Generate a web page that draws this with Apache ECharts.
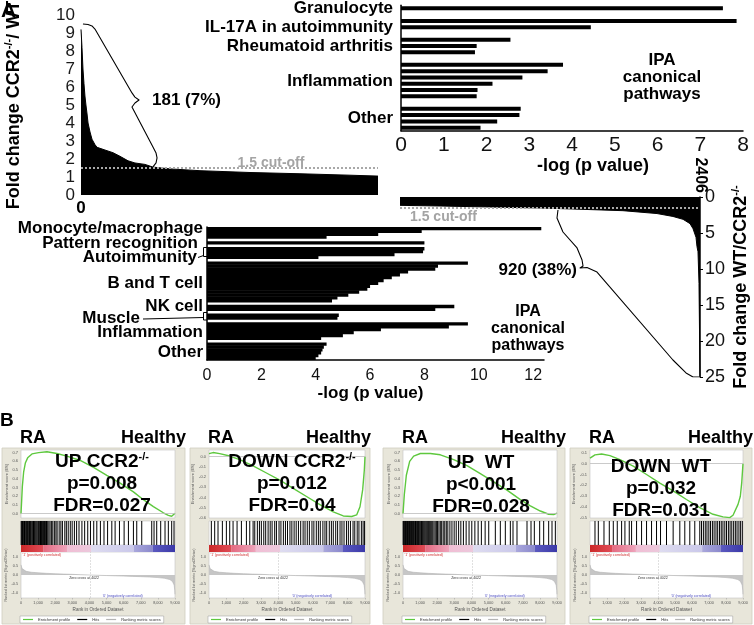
<!DOCTYPE html>
<html>
<head>
<meta charset="utf-8">
<script src="https://cdn.jsdelivr.net/npm/echarts@6/dist/echarts.min.js"></script>
<style>html,body{margin:0;padding:0;background:#fff}#c{width:754px;height:625px}</style>
</head>
<body>
<div id="c"></div>
<script>
// ================= DATA =================
// Panel A top-left: sorted fold change CCR2-/-/WT (gene rank -> fold change)
const totalGenes = 2406;
const cutoff = 1.5;
const tlRank = [0,8,16,24,32,40,49,57,73,89,113,130,194,259,316,381,437,518,583,721,964,1369,1774,2179,2406];
const tlFold = [9.2,8.2,7.0,6.2,5.5,5.0,4.5,4.0,3.5,3.1,2.8,2.65,2.5,2.35,2.15,1.9,1.78,1.7,1.55,1.45,1.35,1.25,1.18,1.1,1.05];

// Panel A right: sorted fold change WT/CCR2-/-
const rtRank = [0,321,722,1123,1387,1788,2061,2189,2270,2326,2350,2374,2382,2390,2398,2406];
const rtFold = [1.16,1.25,1.39,1.53,1.67,1.9,2.3,2.7,3.1,3.7,4.4,5.6,6.9,7.6,12,25];

// IPA canonical pathways (up in CCR2-/-): one value per slot, null = spacer
const trSlotValues = [7.53,null,7.85,4.44,null,2.56,1.77,1.73,null,3.79,3.43,2.84,2.14,1.79,1.77,null,2.80,2.77,2.25,1.86];
const trGroupNames = ['Granulocyte','IL-17A in autoimmunity','Rheumatoid arthritis','Inflammation','Other'];
const trGroupSlots = [0,3,6,12,18];

// IPA canonical pathways (down in CCR2-/-)
const midSlotValues = [12.3,7.9,6.3,4.4,null,8.0,null,8.0,7.95,6.9,4.1,null,
  9.6,8.5,8.4,7.4,7.1,6.8,6.5,6.3,6.0,5.9,5.6,5.2,4.8,4.6,null,
  9.1,8.4,null,4.85,4.8,null,9.6,8.9,6.4,5.4,5.0,4.2,null,4.4,4.3,4.25,4.2,4.1,4.0];
const midGroupNames = ['Monocyte/macrophage','Pattern recognition','Autoimmunity','B and T cell','NK cell','Muscle','Inflammation','Other'];
const midGroupSlots = [0,5,10,19,27,31,36,43];

// Panel B: GSEA
const gseaSets = ['UP CCR2','DOWN CCR2','UP  WT','DOWN  WT'];
const gseaSup = [true,true,false,false];
const gseaP = ['p=0.008','p=0.012','p<0.001','p=0.032'];
const gseaFDR = ['FDR=0.027','FDR=0.04','FDR=0.028','FDR=0.031'];
const zeroCross = 4022;
const rankMax = 9000;

const esUpCCR2 = [[0,0],[39,0.15],[78,0.31],[156,0.48],[253,0.58],[389,0.64],[641,0.685],[1030,0.70],[1516,0.71],[2100,0.69],[2683,0.66],[3460,0.61],[4238,0.53],[5015,0.44],[5793,0.35],[6570,0.25],[7153,0.16],[7737,0.08],[8320,0.01],[8611,-0.02],[8806,-0.03],[8903,-0.015],[9000,0.005]];
const esDownCCR2 = [[0,0.03],[231,0.04],[617,0.03],[1195,0.006],[1773,-0.03],[2544,-0.09],[3315,-0.16],[4086,-0.23],[4857,-0.31],[5627,-0.39],[6398,-0.47],[7169,-0.54],[7747,-0.58],[8229,-0.585],[8518,-0.57],[8711,-0.49],[8865,-0.325],[8961,-0.13],[9000,0]];
const esUpWT = [[0,0],[78,0.22],[195,0.44],[390,0.6],[623,0.66],[1013,0.69],[1597,0.69],[2182,0.675],[2961,0.62],[3740,0.55],[4519,0.46],[5299,0.365],[6078,0.27],[6857,0.16],[7442,0.09],[8026,0.03],[8513,-0.007],[8805,-0.011],[9000,0.007]];
const esDownWT = [[0,0.05],[293,0.08],[685,0.088],[1174,0.073],[1761,0.037],[2543,-0.024],[3326,-0.1],[4109,-0.18],[4891,-0.25],[5674,-0.33],[6457,-0.405],[7239,-0.466],[7826,-0.49],[8217,-0.497],[8413,-0.475],[8707,-0.375],[8843,-0.3],[8922,-0.18],[9000,0]];

const hitsUpCCR2 = [12,48,85,118,160,205,240,285,330,372,410,455,500,548,590,640,688,730,781,829,880,930,985,1030,1090,1140,1195,1250,1310,1370,1425,1490,1560,1630,1700,1790,1860,1950,2040,2110,2230,2330,2420,2560,2650,2760,2880,2990,3120,3250,3390,3560,3720,3900,4060,4250,4430,4640,4850,5060,5307,5500,5754,6026,6278,6570,6764,7056,7640,7775,7931,8164,8417,8611,8806,8942];
const hitsDownCCR2 = [135,328,520,771,1002,1195,1388,1619,1869,2158,2351,2544,2640,2790,2910,3020,3160,3270,3410,3530,3640,3790,3890,4040,4150,4290,4410,4530,4670,4780,4910,5030,5160,5290,5430,5540,5670,5790,5940,6050,6190,6310,6420,6570,6690,6790,6940,7060,7170,7310,7420,7560,7670,7790,7930,8040,8160,8310,8410,8550,8650,8790,8890,8975];
const hitsUpWT = [8,40,72,110,150,185,222,260,300,338,375,415,452,490,530,568,605,645,690,730,770,812,855,900,945,990,1040,1085,1130,1180,1230,1280,1335,1390,1445,1500,1560,1620,1680,1740,1810,1880,1950,2020,2100,2180,2260,2350,2440,2530,2620,2740,2860,2990,3110,3250,3380,3530,3690,3860,4020,4200,4390,4580,4800,5010,5396,5688,5980,6273,6429,6662,7247,7481,7675,7987,8221,8513,8708,8903];
const hitsDownWT = [293,489,822,1135,1370,1604,1859,2054,2309,2446,2739,3033,3326,3620,3913,4148,4500,4891,5283,5576,5870,6163,6457,6560,6670,6780,6880,6990,7090,7200,7300,7410,7510,7620,7720,7820,7930,8030,8140,8240,8340,8450,8550,8650,8760,8860,8960];

const rankedMetric = [[0,0.55],[60,0.35],[150,0.26],[300,0.2],[600,0.15],[1000,0.12],[1500,0.09],[2000,0.07],[2500,0.05],[3000,0.035],[3500,0.015],[4022,0],[4500,-0.015],[5000,-0.03],[5500,-0.045],[6000,-0.06],[6500,-0.075],[7000,-0.09],[7500,-0.11],[8000,-0.14],[8400,-0.18],[8700,-0.25],[8850,-0.35],[8950,-0.55],[8990,-0.85],[9000,-1.05]];

// heat-map colour bar blocks: [startRank, endRank]
const colorBandEdges = [[0,1300],[1300,2700],[2700,4100],[4100,6600],[6600,7700],[7700,9000]];

// ================= BUILD =================
const FONT = '"Liberation Sans", Arial, Helvetica, sans-serif';
const bandColors = [['#cc2828','#e04c58'],['#e46a80','#eea4bc'],['#f0bed4','#ecc8dc'],['#dedcf0','#cac8ea'],['#aaa8dc','#8a88cc'],['#5c5ac0','#3a38a8']];
const grids = [], xAxes = [], yAxes = [], series = [], legends = [], graphics = [];
function addGrid(g){ grids.push(Object.assign({outerBoundsMode:'none', containLabel:false}, g)); return grids.length - 1; }
function fmt1(v){ if (Math.abs(v) < 1e-9) return '0.0'; return v.toFixed(1); }
function isMult(v, s){ const r = v / s; return Math.abs(r - Math.round(r)) < 1e-6; }
function commas(v){ return String(Math.round(v)).replace(/\B(?=(\d{3})+(?!\d))/g, ','); }
const hide = {show:false, onZero:false};
const blackLine = {show:true, onZero:false, lineStyle:{color:'#000', width:1.5}};
const supRich = {
  n:{fontSize:18, fontWeight:'bold', color:'#000', fontFamily:FONT, lineHeight:22},
  s:{fontSize:11, fontWeight:'bold', color:'#000', fontFamily:FONT, lineHeight:22, verticalAlign:'top'}
};

// ---- top-left ----
const gTL = addGrid({left:81, top:15, width:297, height:180});
xAxes.push({gridIndex:gTL, type:'value', min:0, max:totalGenes, axisLine:hide, axisTick:{show:false}, splitLine:{show:false},
  axisLabel:{formatter:v => v === 0 ? '0' : '', fontSize:17, fontWeight:'bold', color:'#000', fontFamily:FONT, margin:5}});
yAxes.push({gridIndex:gTL, type:'value', min:0, max:10, interval:1, axisLine:hide, axisTick:{show:false}, splitLine:{show:false},
  axisLabel:{fontSize:17, color:'#1a1a1a', fontFamily:FONT, margin:6},
  name:'{n|Fold change CCR2}{s|-/-}{n|/ WT}', nameLocation:'middle', nameGap:56, nameTextStyle:{rich:supRich}});
series.push({type:'line', xAxisIndex:gTL, yAxisIndex:gTL, data:tlRank.map((r,i)=>[r, tlFold[i]]), symbol:'none',
  lineStyle:{color:'#000', width:1}, areaStyle:{color:'#000', opacity:1}, silent:true,
  markLine:{silent:true, symbol:'none', data:[{yAxis:cutoff}], label:{show:false}, lineStyle:{color:'#a8a8a8', type:'dotted', width:2}}});
// curly-brace annotation (data coordinates)
series.push({type:'line', xAxisIndex:gTL, yAxisIndex:gTL, symbol:'none', silent:true, z:5,
  lineStyle:{color:'#000', width:1.1, join:'round'},
  data:[[16,9.5],[57,9.47],[89,9.39],[113,9.22],[413,5.67],[437,5.44],[470,5.28],[437,5.11],[413,4.89],[583,2.67],[608,2.33],[616,2.06],[608,1.78],[583,1.56]]});

// ---- top-right ----
const gTR = addGrid({left:401, top:5.2, width:342, height:125.6});
xAxes.push({gridIndex:gTR, type:'value', min:0, max:8, interval:1, axisLine:blackLine, axisTick:{show:false}, splitLine:{show:false},
  axisLabel:{fontSize:21, color:'#111', margin:4, fontFamily:FONT},
  name:'-log (p value)', nameLocation:'middle', nameGap:21,
  nameTextStyle:{fontSize:18, fontWeight:'bold', color:'#000', fontFamily:FONT, padding:[0,0,0,42]}});
const trLabels = trSlotValues.map(() => '');
trGroupSlots.forEach((s,i) => trLabels[s] = trGroupNames[i]);
const trBase = {fontSize:17, fontWeight:'bold', color:'#000', fontFamily:FONT};
yAxes.push({gridIndex:gTR, type:'category', inverse:true, data:trSlotValues.map((_,i)=>'t'+i),
  axisLine:blackLine, axisTick:{show:false},
  axisLabel:{interval:0, margin:8, formatter:(v,i) => {
    const t = trLabels[i]; if (!t) return '';
    const k = i === 12 ? 'u4' : (i === 18 ? 'u6' : 'b');
    return '{' + k + '|' + t + '}';
  }, rich:{b:trBase, u4:Object.assign({padding:[0,0,4,0]}, trBase), u6:Object.assign({padding:[0,0,6,0]}, trBase)}}});
series.push({type:'bar', xAxisIndex:gTR, yAxisIndex:gTR, data:trSlotValues, barWidth:4, itemStyle:{color:'#000'}, silent:true});

// ---- middle ----
const gMID = addGrid({left:207, top:227, width:337, height:133});
xAxes.push({gridIndex:gMID, type:'value', min:0, max:12.4, interval:2, axisLine:blackLine, axisTick:{show:false}, splitLine:{show:false},
  axisLabel:{fontSize:16, color:'#111', margin:8, fontFamily:FONT, formatter:v => isMult(v,2) ? String(v) : ''},
  name:'-log (p value)', nameLocation:'middle', nameGap:24,
  nameTextStyle:{fontSize:17, fontWeight:'bold', color:'#000', fontFamily:FONT, padding:[0,10,0,0]}});
const midLabels = midSlotValues.map(() => '');
midGroupSlots.forEach((s,i) => midLabels[s] = midGroupNames[i]);
const midKey = {5:'p5', 10:'p6', 31:'m'};
const midBase = {fontSize:17, fontWeight:'bold', color:'#000', fontFamily:FONT};
yAxes.push({gridIndex:gMID, type:'category', inverse:true, data:midSlotValues.map((_,i)=>'m'+i),
  axisLine:blackLine, axisTick:{show:false},
  axisLabel:{interval:0, margin:4, formatter:(v,i) => {
    const t = midLabels[i]; if (!t) return '';
    return '{' + (midKey[i] || 'b') + '|' + t + '}';
  }, rich:{b:midBase, p5:Object.assign({padding:[0,5,0,0]}, midBase), p6:Object.assign({padding:[0,6,0,0]}, midBase), m:Object.assign({padding:[0,63,0,0]}, midBase)}}});
series.push({type:'bar', xAxisIndex:gMID, yAxisIndex:gMID, data:midSlotValues, barWidth:'118%',
  itemStyle:{color:'#000'}, silent:true});

// ---- right ----
const gRT = addGrid({left:400, top:197, width:300, height:180});
xAxes.push({gridIndex:gRT, type:'value', position:'top', min:0, max:totalGenes, interval:totalGenes, axisLine:hide, axisTick:{show:false}, splitLine:{show:false},
  axisLabel:{formatter:v => v === totalGenes ? String(totalGenes) : '', rotate:90, fontSize:16, fontWeight:'bold', color:'#000', fontFamily:FONT, margin:4}});
yAxes.push({gridIndex:gRT, type:'value', position:'right', inverse:true, min:0, max:25, interval:5, axisLine:blackLine,
  axisTick:{show:true, length:3, lineStyle:{color:'#000', width:1}}, splitLine:{show:false},
  axisLabel:{fontSize:18, color:'#111', fontFamily:FONT, margin:5},
  name:'{n|Fold change WT/CCR2}{s|-/-}', nameLocation:'middle', nameGap:30, nameTextStyle:{rich:supRich}});
series.push({type:'line', xAxisIndex:gRT, yAxisIndex:gRT, data:rtRank.map((r,i)=>[r, rtFold[i]]), symbol:'none',
  lineStyle:{color:'#000', width:1}, areaStyle:{color:'#000', opacity:1}, silent:true,
  markLine:{silent:true, symbol:'none', data:[{yAxis:cutoff}], label:{show:false}, lineStyle:{color:'#a8a8a8', type:'dotted', width:2}}});
series.push({type:'line', xAxisIndex:gRT, yAxisIndex:gRT, symbol:'none', silent:true, z:5,
  lineStyle:{color:'#000', width:1.1, join:'round'},
  data:[[1267,1.8],[1259,2.92],[1307,4.86],[1420,7.08],[1460,8.75],[1468,9.58],[1444,9.86],[1500,9.79],[1580,10.42],[2189,22.64],[2294,24.44],[2350,25],[2398,25]]});

// ---- GSEA panels ----
const esSets = [esUpCCR2, esDownCCR2, esUpWT, esDownWT];
const hitSets = [hitsUpCCR2, hitsDownCCR2, hitsUpWT, hitsDownWT];
const esRanges = [[-0.05,0.73],[-0.6,0.065],[-0.05,0.73],[-0.5,0.125]];
const panelGeo = [{L:21,R:175,b0:2,b1:185,cx:102,ty:462},{L:209,R:365,b0:190,b1:370,cx:292,ty:462},
                  {L:403,R:557,b0:383,b1:565,cx:481,ty:463},{L:590,R:743,b0:570,b1:752,cx:661,ty:467}];
const tiny = {color:'#555', fontFamily:FONT};
panelGeo.forEach((g,p) => {
  const W = g.R - g.L;
  // ES
  const gE = addGrid({left:g.L, top:450, width:W, height:68, show:true, backgroundColor:'#fff', borderColor:'#c4c4c4', borderWidth:0.6});
  xAxes.push({gridIndex:gE, type:'value', min:0, max:rankMax, show:false});
  yAxes.push({gridIndex:gE, type:'value', min:esRanges[p][0], max:esRanges[p][1], interval:0.05, axisLine:hide, axisTick:{show:false}, splitLine:{show:false},
    axisLabel:Object.assign({fontSize:4, margin:3, formatter:v => isMult(v,0.1) ? fmt1(v) : ''}, tiny),
    name:'Enrichment score (ES)', nameLocation:'middle', nameGap:11, nameTextStyle:Object.assign({fontSize:4}, tiny)});
  series.push({name:'Enrichment profile', type:'line', xAxisIndex:gE, yAxisIndex:gE, data:esSets[p], symbol:'none', silent:true,
    lineStyle:{color:'#5ec83e', width:1.4}, itemStyle:{color:'#5ec83e'},
    markLine:{silent:true, symbol:'none', data:[{yAxis:0}], label:{show:false}, lineStyle:{color:'#bdbdbd', width:0.8, type:'solid'}}});
  // hits
  const gH = addGrid({left:g.L, top:521, width:W, height:24, show:true, backgroundColor:'#fff', borderColor:'#c4c4c4', borderWidth:0.6});
  xAxes.push({gridIndex:gH, type:'value', min:0, max:rankMax, show:false});
  yAxes.push({gridIndex:gH, type:'value', min:0, max:1, show:false});
  series.push({name:'Hits', type:'bar', xAxisIndex:gH, yAxisIndex:gH, data:hitSets[p].map(h => [h,1]), barWidth:1, silent:true,
    itemStyle:{color:'#000'}});
  // colour bar
  const gC = addGrid({left:g.L, top:545, width:W, height:7});
  xAxes.push({gridIndex:gC, type:'value', min:0, max:rankMax, show:false});
  yAxes.push({gridIndex:gC, type:'value', min:0, max:1, show:false});
  series.push({type:'custom', xAxisIndex:gC, yAxisIndex:gC, silent:true, encode:{x:[0,1], y:2},
    data:colorBandEdges.map(b => [b[0], b[1], 0.5]),
    renderItem:(params, api) => {
      const a = api.coord([api.value(0), 1]);
      const b = api.coord([api.value(1), 0]);
      const c = bandColors[params.dataIndex];
      return {type:'rect', shape:{x:a[0], y:a[1], width:b[0]-a[0], height:b[1]-a[1]},
        style:{fill:new echarts.graphic.LinearGradient(0,0,1,0,[{offset:0,color:c[0]},{offset:1,color:c[1]}])}};
    }});
  // ranked list
  const gR = addGrid({left:g.L, top:552, width:W, height:46, show:true, backgroundColor:'#fff', borderColor:'#c4c4c4', borderWidth:0.6});
  xAxes.push({gridIndex:gR, type:'value', min:0, max:rankMax, interval:1000, axisLine:hide,
    axisTick:{show:true, length:1.5, lineStyle:{color:'#999', width:0.5}}, splitLine:{show:false},
    axisLabel:Object.assign({fontSize:3.8, margin:2.5, formatter:commas}, tiny),
    name:'Rank in Ordered Dataset', nameLocation:'middle', nameGap:9, nameTextStyle:Object.assign({fontSize:4.6}, tiny)});
  yAxes.push({gridIndex:gR, type:'value', min:-1.25, max:1.25, interval:0.25, axisLine:hide, axisTick:{show:false}, splitLine:{show:false},
    axisLabel:Object.assign({fontSize:3.8, margin:3, formatter:v => isMult(v,0.5) ? fmt1(v) : ''}, tiny),
    name:'Ranked list metric (Signal2Noise)', nameLocation:'middle', nameGap:11, nameTextStyle:Object.assign({fontSize:3.6}, tiny)});
  series.push({name:'Ranking metric scores', type:'line', xAxisIndex:gR, yAxisIndex:gR, data:rankedMetric, symbol:'none', silent:true,
    lineStyle:{color:'#b4b4b4', width:0.6}, itemStyle:{color:'#b4b4b4'}, areaStyle:{color:'#c6c6c6', opacity:1},
    markLine:{silent:true, symbol:'none', data:[{xAxis:zeroCross}], label:{show:false}, lineStyle:{color:'#c0c0c0', width:0.5, type:'dashed'}}});
  legends.push({left:g.L - 1, top:616, selectedMode:false, icon:'rect', itemWidth:10, itemHeight:1.2, itemGap:7,
    padding:[1.5,3], backgroundColor:'#fff', borderColor:'#9a9a9a', borderWidth:0.5,
    data:['Enrichment profile','Hits','Ranking metric scores'], textStyle:{fontSize:4, color:'#333', fontFamily:FONT}});
  // panel frame & texts
  graphics.push({type:'rect', z:-10, shape:{x:g.b0, y:448, width:g.b1-g.b0, height:176}, style:{fill:'#e8e6da', stroke:'#cfcdbf', lineWidth:0.8}});
  graphics.push({type:'text', z:50, x:g.L - 1, y:438, style:{text:'RA', font:'bold 18px ' + FONT, fill:'#000', align:'left', textAlign:'left', verticalAlign:'middle', textVerticalAlign:'middle'}});
  graphics.push({type:'text', z:50, x:g.b1 + 1, y:438, style:{text:'Healthy', font:'bold 18px ' + FONT, fill:'#000', align:'right', textAlign:'right', verticalAlign:'middle', textVerticalAlign:'middle'}});
  const big = {fontSize:19, fontWeight:'bold', fontFamily:FONT, fill:'#000', color:'#000', lineHeight:22};
  const bigS = {fontSize:11, fontWeight:'bold', fontFamily:FONT, fill:'#000', color:'#000', lineHeight:22, verticalAlign:'top'};
  graphics.push({type:'text', z:60, x:g.cx, y:g.ty, style:{text:'{n|' + gseaSets[p] + '}' + (gseaSup[p] ? '{s|-/-}' : ''), rich:{n:big, s:bigS},
    align:'center', textAlign:'center', verticalAlign:'middle', textVerticalAlign:'middle'}});
  graphics.push({type:'text', z:60, x:g.cx, y:g.ty + 22, style:{text:gseaP[p], font:'bold 19px ' + FONT, fill:'#000',
    align:'center', textAlign:'center', verticalAlign:'middle', textVerticalAlign:'middle'}});
  graphics.push({type:'text', z:60, x:g.cx, y:g.ty + 43.5, style:{text:gseaFDR[p], font:'bold 19px ' + FONT, fill:'#000',
    align:'center', textAlign:'center', verticalAlign:'middle', textVerticalAlign:'middle'}});
  graphics.push({type:'text', z:40, x:g.L + 1.5, y:555, style:{text:"'1' (positively correlated)", font:'3.6px ' + FONT, fill:'#d03030', align:'left', textAlign:'left', verticalAlign:'middle', textVerticalAlign:'middle'}});
  graphics.push({type:'text', z:40, x:g.L + W * 0.41, y:577.5, style:{text:'Zero cross at ' + zeroCross, font:'3.6px ' + FONT, fill:'#333', align:'center', textAlign:'center', verticalAlign:'middle', textVerticalAlign:'middle'}});
  graphics.push({type:'text', z:40, x:g.L + W * 0.66, y:595.5, style:{text:"'0' (negatively correlated)", font:'3.6px ' + FONT, fill:'#4848c0', align:'center', textAlign:'center', verticalAlign:'middle', textVerticalAlign:'middle'}});
});

// ---- annotation texts (panel A) ----
function txt(text, x, y, font, align, fill){
  graphics.push({type:'text', z:60, x:x, y:y, style:{text:text, font:font + ' ' + FONT, fill:fill || '#000', align:align, textAlign:align, verticalAlign:'middle', textVerticalAlign:'middle', lineHeight:17}});
}
txt('A', 1, 11, 'bold 21px', 'left');
txt('B', 0, 421, 'bold 19px', 'left');
txt('181 (7%)', 152, 100, 'bold 17px', 'left');
txt('920 (38%)', 577, 270, 'bold 17px', 'right');
txt('1.5 cut-off', 271, 163, 'bold 14px', 'center', '#a4a4a4');
txt('1.5 cut-off', 410, 217, 'bold 14px', 'left', '#a4a4a4');
txt('IPA\ncanonical\npathways', 662, 77, 'bold 17px', 'center');
txt('IPA\ncanonical\npathways', 528, 329, 'bold 16px', 'center');
// small brackets next to middle chart labels
graphics.push({type:'polyline', z:60, shape:{points:[[207,247.5],[203.5,247.5],[203.5,256.5],[207,256.5]]}, style:{stroke:'#000', lineWidth:1, fill:null}});
graphics.push({type:'line', z:60, shape:{x1:198, y1:257.5, x2:203.5, y2:255.5}, style:{stroke:'#000', lineWidth:1}});
graphics.push({type:'polyline', z:60, shape:{points:[[207,312.5],[203.5,312.5],[203.5,320],[207,320]]}, style:{stroke:'#000', lineWidth:1, fill:null}});
graphics.push({type:'line', z:60, shape:{x1:143, y1:319, x2:203.5, y2:317.5}, style:{stroke:'#000', lineWidth:1}});

const chart = echarts.init(document.getElementById('c'), null, {renderer:'canvas'});
chart.setOption({
  animation:false,
  backgroundColor:'#fff',
  textStyle:{fontFamily:FONT},
  grid:grids, xAxis:xAxes, yAxis:yAxes, series:series, legend:legends,
  graphic:{elements:graphics}
});
</script>
</body>
</html>
